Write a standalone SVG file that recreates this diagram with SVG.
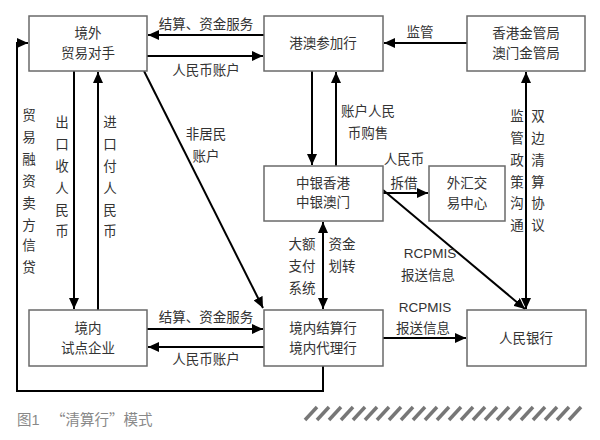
<svg xmlns="http://www.w3.org/2000/svg" width="600" height="440" viewBox="0 0 600 440">
<style>
.box{fill:#fff;stroke:#6a6a6a;stroke-width:1.5}
.t{font-family:"Liberation Sans","Noto Sans CJK SC",sans-serif;font-size:13.5px;fill:#333;text-anchor:middle}
.l{font-family:"Liberation Sans","Noto Sans CJK SC",sans-serif;font-size:13.5px;fill:#333;text-anchor:middle}
.c{fill:none;stroke:#000;stroke-width:2}
.cap{font-family:"Liberation Sans","Noto Sans CJK SC",sans-serif;font-size:14.5px;fill:#888}
.capq{font-family:"Noto Sans CJK SC",sans-serif;font-size:14.5px;fill:#888}
.st{stroke:#777;stroke-width:3.5}
</style>
<defs>
<marker id="ah" markerUnits="userSpaceOnUse" markerWidth="12" markerHeight="10" refX="11" refY="5" orient="auto-start-reverse">
<path d="M0,0 L11,5 L0,10 Z" fill="#000"/>
</marker>
</defs>
<rect width="600" height="440" fill="#fff"/>
<g id="connectors">
<line class="c" x1="264" y1="35" x2="148" y2="35" marker-end="url(#ah)"/>
<line class="c" x1="147" y1="56" x2="263" y2="56" marker-end="url(#ah)"/>
<line class="c" x1="467" y1="43" x2="384" y2="43" marker-end="url(#ah)"/>
<line class="c" x1="312" y1="71" x2="312" y2="165" marker-end="url(#ah)"/>
<line class="c" x1="336" y1="166" x2="336" y2="72" marker-end="url(#ah)"/>
<line class="c" x1="383" y1="193" x2="428" y2="193" marker-end="url(#ah)"/>
<line class="c" x1="383" y1="190" x2="525" y2="309" marker-end="url(#ah)"/>
<line class="c" x1="526" y1="72" x2="526" y2="309" marker-start="url(#ah)" marker-end="url(#ah)"/>
<line class="c" x1="323" y1="222" x2="323" y2="309" marker-start="url(#ah)" marker-end="url(#ah)"/>
<line class="c" x1="144" y1="71" x2="263" y2="308" marker-end="url(#ah)"/>
<line class="c" x1="74" y1="71" x2="74" y2="309" marker-end="url(#ah)"/>
<line class="c" x1="98" y1="310" x2="98" y2="72" marker-end="url(#ah)"/>
<polyline class="c" points="323,366 323,391 17,391 17,43 28,43" marker-end="url(#ah)"/>
<line class="c" x1="147" y1="329" x2="263" y2="329" marker-end="url(#ah)"/>
<line class="c" x1="264" y1="347" x2="148" y2="347" marker-end="url(#ah)"/>
<line class="c" x1="383" y1="338" x2="466" y2="338" marker-end="url(#ah)"/>
</g>
<g id="labels">
<text class="l" x="206" y="29">结算、资金服务</text>
<text class="l" x="206" y="75">人民币账户</text>
<text class="l" x="420" y="37">监管</text>
<text class="l" x="368" y="116">账户人民</text>
<text class="l" x="368" y="138">币购售</text>
<text class="l" x="404" y="164">人民币</text>
<text class="l" x="404" y="188">拆借</text>
<text class="l" x="430" y="258">RCPMIS</text>
<text class="l" x="428" y="280">报送信息</text>
<text class="l" x="425" y="312">RCPMIS</text>
<text class="l" x="423" y="333">报送信息</text>
<text class="l" x="302" y="249">大额</text>
<text class="l" x="302" y="271">支付</text>
<text class="l" x="302" y="293">系统</text>
<text class="l" x="342" y="249">资金</text>
<text class="l" x="342" y="271">划转</text>
<text class="l" x="206" y="139">非居民</text>
<text class="l" x="206" y="161">账户</text>
<text class="l" x="206" y="322">结算、资金服务</text>
<text class="l" x="206" y="364">人民币账户</text>
<g class="l">
<text x="517" y="121">监</text><text x="517" y="143">管</text><text x="517" y="165">政</text><text x="517" y="187">策</text><text x="517" y="208">沟</text><text x="517" y="230">通</text>
<text x="538" y="121">双</text><text x="538" y="143">边</text><text x="538" y="165">清</text><text x="538" y="187">算</text><text x="538" y="208">协</text><text x="538" y="230">议</text>
<text x="62" y="127">出</text><text x="62" y="149">口</text><text x="62" y="171">收</text><text x="62" y="193">人</text><text x="62" y="215">民</text><text x="62" y="236">币</text>
<text x="110" y="127">进</text><text x="110" y="149">口</text><text x="110" y="171">付</text><text x="110" y="193">人</text><text x="110" y="215">民</text><text x="110" y="236">币</text>
<text x="29" y="120">贸</text><text x="29" y="142">易</text><text x="29" y="164">融</text><text x="29" y="186">资</text><text x="29" y="208">卖</text><text x="29" y="230">方</text><text x="29" y="250">信</text><text x="29" y="272">贷</text>
</g>
</g>
<g id="jingwai"><rect class="box" x="29" y="16" width="118" height="55"/><text class="t" x="88" y="38">境外</text><text class="t" x="88" y="58">贸易对手</text></g>
<g id="gangao"><rect class="box" x="264" y="16" width="119" height="55"/><text class="t" x="323" y="48">港澳参加行</text></g>
<g id="jinguan"><rect class="box" x="467" y="16" width="118" height="55"/><text class="t" x="526" y="38">香港金管局</text><text class="t" x="526" y="58">澳门金管局</text></g>
<g id="zhongyin"><rect class="box" x="264" y="166" width="119" height="55"/><text class="t" x="323" y="188">中银香港</text><text class="t" x="323" y="207">中银澳门</text></g>
<g id="waihui"><rect class="box" x="429" y="166" width="76" height="55"/><text class="t" x="467" y="188">外汇交</text><text class="t" x="467" y="208">易中心</text></g>
<g id="shidian"><rect class="box" x="29" y="310" width="118" height="56"/><text class="t" x="88" y="333">境内</text><text class="t" x="88" y="353">试点企业</text></g>
<g id="jiesuan"><rect class="box" x="264" y="310" width="119" height="56"/><text class="t" x="323" y="333">境内结算行</text><text class="t" x="323" y="353">境内代理行</text></g>
<g id="renmin"><rect class="box" x="467" y="310" width="119" height="56"/><text class="t" x="526" y="343">人民银行</text></g>
<g id="caption">
<text class="cap" x="17" y="425">图1</text>
<text class="capq" x="51" y="425">“清算行”模式</text>
<g class="st">
<line x1="305" y1="420" x2="317" y2="407"/><line x1="317" y1="420" x2="329" y2="407"/><line x1="329" y1="420" x2="341" y2="407"/><line x1="341" y1="420" x2="353" y2="407"/><line x1="353" y1="420" x2="365" y2="407"/><line x1="365" y1="420" x2="377" y2="407"/><line x1="377" y1="420" x2="389" y2="407"/><line x1="389" y1="420" x2="401" y2="407"/><line x1="401" y1="420" x2="413" y2="407"/><line x1="413" y1="420" x2="425" y2="407"/><line x1="425" y1="420" x2="437" y2="407"/><line x1="437" y1="420" x2="449" y2="407"/><line x1="449" y1="420" x2="461" y2="407"/><line x1="461" y1="420" x2="473" y2="407"/><line x1="473" y1="420" x2="485" y2="407"/><line x1="485" y1="420" x2="497" y2="407"/><line x1="497" y1="420" x2="509" y2="407"/><line x1="509" y1="420" x2="521" y2="407"/><line x1="521" y1="420" x2="533" y2="407"/><line x1="533" y1="420" x2="545" y2="407"/><line x1="545" y1="420" x2="557" y2="407"/><line x1="557" y1="420" x2="569" y2="407"/><line x1="569" y1="420" x2="581" y2="407"/>
</g>
</g>
</svg>
